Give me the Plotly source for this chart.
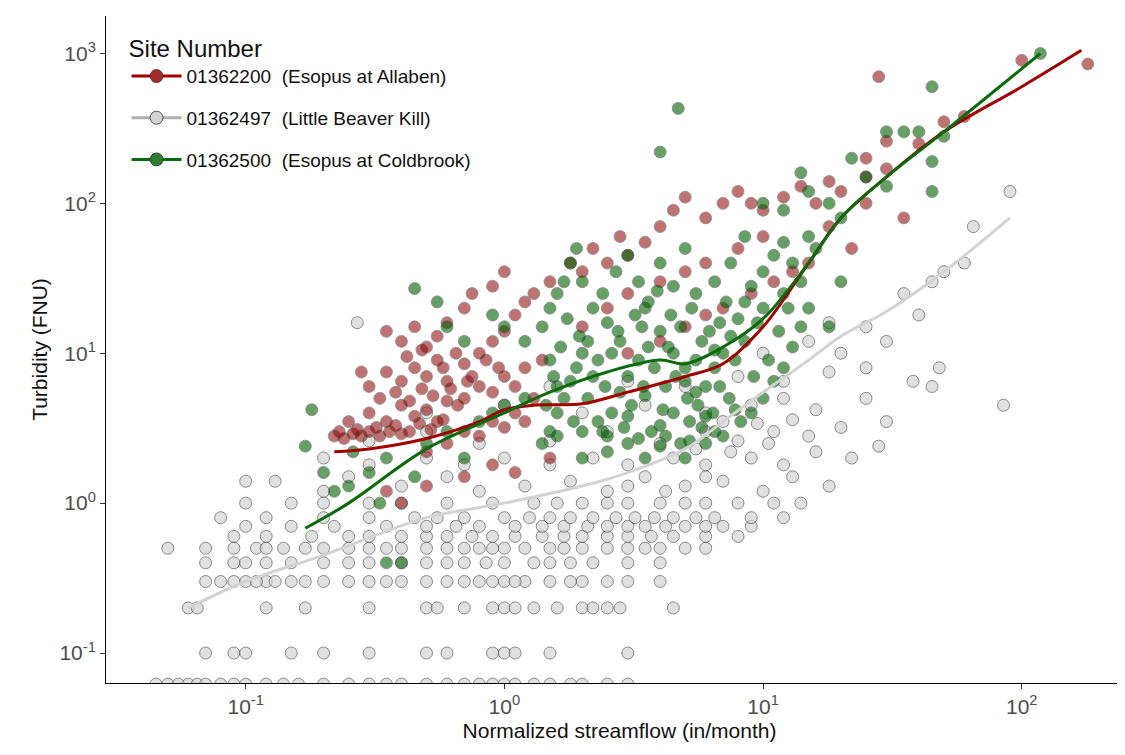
import plotly.graph_objects as go

# (streamflow, turbidity) pairs, per site
gray_pts = [
    (0.045, .062), (0.05, .062), (0.055, .062), (0.06, .062), (0.065, .062), (0.07, .062), (0.08, .062), (0.09, .062),
    (0.1, .062), (0.12, .062), (0.14, .062), (0.16, .062), (0.2, .062), (0.25, .062), (0.3, .062), (0.35, .062),
    (0.4, .062), (0.5, .062), (0.6, .062), (0.7, .062), (0.8, .062), (0.9, .062), (1.0, .062), (1.1, .062),
    (1.3, .062), (1.5, .062), (1.8, .062), (2.0, .062), (2.5, .062), (3.0, .062),
    (0.07, .1), (0.09, .1), (0.1, .1), (0.15, .1), (0.2, .1), (0.3, .1), (0.5, .1), (0.6, .1), (0.9, .1), (1.0, .1),
    (1.1, .1), (1.5, .1), (3.0, .1),
    (0.06, .2), (0.065, .2), (0.12, .2), (0.17, .2), (0.3, .2), (0.5, .2), (0.7, .2), (0.9, .2), (1.0, .2), (1.3, .2),
    (1.6, .2), (2.0, .2), (2.5, .2), (2.8, .2), (4.5, .2), (0.55, .2), (1.1, .2), (2.2, .2),
    (0.07, .3), (0.08, .3), (0.1, .3), (0.12, .3), (0.15, .3), (0.2, .3), (0.3, .3), (0.4, .3), (0.5, .3), (0.6, .3),
    (0.7, .3), (0.8, .3), (1.0, .3), (1.2, .3), (1.5, .3), (2.0, .3), (2.5, .3), (3.0, .3), (4.0, .3),
    (0.09, .3), (0.11, .3), (0.13, .3), (0.17, .3), (0.25, .3), (0.35, .3), (0.9, .3), (1.1, .3), (1.8, .3),
    (0.07, .4), (0.09, .4), (0.1, .4), (0.15, .4), (0.2, .4), (0.3, .4), (0.4, .4), (0.5, .4), (0.7, .4), (1.0, .4),
    (1.3, .4), (1.8, .4), (2.2, .4), (3.0, .4), (4.0, .4), (0.12, .4), (0.25, .4), (0.6, .4), (0.85, .4), (1.5, .4),
    (0.05, .5), (0.09, .5), (0.11, .5), (0.14, .5), (0.2, .5), (0.25, .5), (0.3, .5), (0.4, .5), (0.5, .5), (0.6, .5),
    (0.8, .5), (1.0, .5), (1.2, .5), (1.5, .5), (2.0, .5), (3.0, .5), (4.0, .5), (5.0, .5), (6.0, .5),
    (0.12, .5), (0.17, .5), (0.35, .5), (0.7, .5), (0.9, .5), (1.7, .5), (2.5, .5), (3.5, .5),
    (0.09, .6), (0.12, .6), (0.18, .6), (0.25, .6), (0.4, .6), (0.6, .6), (0.9, .6), (1.4, .6), (2.0, .6), (3.0, .6),
    (4.5, .6), (6.0, .6), (8.0, .6), (0.3, .6), (0.5, .6), (0.75, .6), (1.1, .6), (1.7, .6), (2.5, .6), (3.7, .6),
    (0.1, .7), (0.15, .7), (0.22, .7), (0.35, .7), (0.5, .7), (0.8, .7), (1.1, .7), (1.7, .7), (2.5, .7), (3.5, .7),
    (5.0, .7), (7.0, .7), (9.0, .7), (0.65, .7), (1.4, .7), (2.1, .7), (3.0, .7), (4.2, .7), (6.0, .7),
    (0.08, .8), (0.12, .8), (0.2, .8), (0.3, .8), (0.45, .8), (0.7, .8), (1.0, .8), (1.5, .8), (2.2, .8), (3.2, .8),
    (4.5, .8), (6.5, .8), (9.0, .8), (12.0, .8), (0.55, .8), (1.25, .8), (1.8, .8), (2.7, .8), (3.8, .8), (5.5, .8),
    (0.1, 1.0), (0.15, 1.0), (0.2, 1.0), (0.3, 1.0), (0.4, 1.0), (0.6, 1.0), (0.9, 1.0), (1.3, 1.0), (2.0, 1.0),
    (3.0, 1.0), (4.0, 1.0), (6.0, 1.0), (8.0, 1.0), (11.0, 1.0), (14.0, 1.0), (1.6, 1.0), (2.5, 1.0), (5.0, 1.0),
    (0.1, 1.4), (0.2, 1.2), (0.25, 1.5), (0.4, 1.3), (0.6, 1.5), (0.8, 1.2), (1.2, 1.3), (1.8, 1.4), (2.5, 1.2),
    (3.5, 1.5), (5.0, 1.3), (7.0, 1.4), (10.0, 1.2), (13.0, 1.5), (18.0, 1.3), (3.0, 1.3), (4.2, 1.2), (6.0, 1.5),
    (0.2, 2.0), (0.3, 1.8), (0.5, 2.0), (0.7, 1.8), (1.0, 2.0), (1.5, 1.8), (2.2, 2.0), (3.0, 1.8), (4.5, 2.0),
    (6.0, 1.8), (9.0, 2.0), (12.0, 1.8), (16.0, 2.2), (22.0, 2.0), (5.5, 2.3), (7.5, 2.2), (10.5, 2.5),
    (0.3, 2.6), (0.5, 3.0), (0.8, 2.5), (1.5, 2.6), (2.5, 3.0), (4.0, 2.5), (6.0, 3.0), (8.0, 2.6), (11.0, 3.0),
    (15.0, 2.8), (20.0, 3.2), (9.5, 3.4), (13.0, 3.6), (7.0, 3.5),
    (0.5, 4.0), (1.0, 4.5), (2.0, 4.0), (3.5, 4.5), (6.0, 4.0), (9.0, 4.5), (12.0, 5.0), (16.0, 4.2), (25.0, 5.0),
    (1.5, 6.0), (3.0, 6.5), (5.0, 6.0), (8.0, 7.0), (12.0, 6.5), (18.0, 7.5), (25.0, 8.0), (38.0, 6.5),
    (10.0, 10.0), (15.0, 12.0), (20.0, 10.0), (30.0, 12.0), (40.0, 18.0), (25.0, 15.0), (18.0, 16.0),
    (0.27, 16.0), (30.0, 3.5), (28.0, 2.4), (48.0, 8.0), (45.0, 6.0), (85.0, 4.5), (65.0, 70.0), (90.0, 120.0),
    (50.0, 35.0), (45.0, 30.0), (35.0, 25.0), (60.0, 40.0), (0.13, 1.4), (0.07, .5),
]

red_pts = [
    (0.22, 2.8), (0.24, 2.7), (0.26, 2.9), (0.28, 2.8), (0.3, 3.0), (0.33, 2.8), (0.36, 3.0), (0.4, 2.9),
    (0.23, 3.0), (0.27, 3.1), (0.32, 3.2), (0.38, 3.3), (0.43, 3.0), (0.47, 3.4), (0.52, 3.1), (0.58, 3.6),
    (0.25, 3.5), (0.3, 4.0), (0.35, 3.5), (0.4, 4.5), (0.45, 3.8), (0.5, 4.2), (0.55, 3.5), (0.6, 4.8),
    (0.33, 5.0), (0.38, 5.5), (0.43, 4.8), (0.48, 5.8), (0.53, 5.2), (0.62, 5.8), (0.66, 4.5), (0.72, 6.5),
    (0.3, 6.0), (0.35, 7.5), (0.4, 6.5), (0.45, 8.0), (0.5, 7.0), (0.55, 9.0), (0.6, 6.5), (0.7, 8.5),
    (0.28, 7.5), (0.42, 9.5), (0.48, 10.5), (0.58, 8.0), (0.65, 10.0), (0.75, 7.0), (0.85, 9.0), (0.95, 8.0),
    (0.35, 14.0), (0.4, 12.0), (0.45, 15.0), (0.5, 11.0), (0.55, 13.0), (0.6, 16.0), (0.7, 20.0), (0.75, 25.0),
    (0.8, 10.0), (0.9, 12.0), (1.0, 14.0), (1.1, 18.0), (1.2, 22.0), (1.3, 25.0), (0.9, 28.0), (1.0, 35.0),
    (0.7, 5.0), (0.8, 6.0), (0.9, 5.5), (1.0, 7.0), (1.1, 6.0), (1.2, 8.0), (1.3, 5.0), (1.4, 9.0),
    (0.5, 2.2), (0.6, 2.5), (0.7, 3.0), (0.8, 2.8), (0.9, 3.5), (1.0, 3.2), (1.1, 4.0), (1.2, 3.5),
    (0.35, 1.2), (0.4, 1.0), (0.5, 1.3), (0.7, 1.5), (0.9, 1.8), (1.1, 1.6), (1.5, 2.0),
    (1.5, 30.0), (1.8, 40.0), (2.0, 35.0), (2.2, 50.0), (2.5, 40.0), (2.8, 60.0), (3.0, 45.0), (3.5, 55.0),
    (4.0, 70.0), (4.5, 90.0), (5.0, 110.0), (6.0, 80.0), (7.0, 100.0), (8.0, 120.0), (9.0, 100.0),
    (10.0, 90.0), (12.0, 110.0), (14.0, 130.0), (16.0, 100.0), (18.0, 140.0), (20.0, 120.0), (25.0, 150.0),
    (25.0, 200.0), (30.0, 260.0), (30.0, 170.0), (40.0, 250.0), (50.0, 350.0), (60.0, 380.0), (25.0, 100.0),
    (100.0, 900.0), (180.0, 850.0), (28.0, 700.0), (35.0, 80.0), (22.0, 50.0), (18.0, 70.0), (15.0, 40.0),
    (2.0, 15.0), (2.5, 20.0), (3.0, 25.0), (4.0, 30.0), (5.0, 35.0), (6.0, 40.0), (8.0, 50.0), (10.0, 60.0),
    (3.0, 10.0), (4.0, 12.0), (5.0, 15.0), (6.0, 18.0), (7.0, 20.0), (9.0, 25.0), (11.0, 30.0), (13.0, 35.0),
]

green_pts = [
    (0.17, 2.4), (0.18, 4.2), (0.22, 1.2), (0.25, 1.3), (0.3, 1.6), (0.35, 2.0), (0.4, 0.4), (0.35, 0.4),
    (0.45, 1.5), (0.5, 2.5), (0.6, 3.0), (0.7, 2.0), (0.8, 3.5), (0.9, 4.0), (1.0, 4.5), (1.2, 5.0),
    (0.45, 27.0), (0.55, 22.0), (0.6, 15.0), (0.7, 12.0), (0.9, 18.0), (1.0, 15.0), (1.2, 12.0),
    (1.4, 2.5), (1.5, 3.0), (1.6, 4.0), (1.7, 5.0), (1.8, 6.5), (1.9, 8.0), (2.0, 10.0), (2.1, 12.0),
    (1.4, 15.0), (1.5, 20.0), (1.6, 25.0), (1.7, 30.0), (1.8, 40.0), (1.9, 50.0), (2.0, 30.0), (2.2, 20.0),
    (2.4, 3.0), (2.6, 4.0), (2.8, 5.5), (3.0, 7.0), (3.3, 9.0), (3.6, 11.0), (4.0, 14.0), (4.4, 18.0),
    (2.4, 25.0), (2.7, 35.0), (3.0, 45.0), (3.3, 30.0), (3.6, 22.0), (4.0, 40.0), (4.5, 28.0), (5.0, 50.0),
    (4.8, 2.5), (5.2, 3.5), (5.6, 4.5), (6.0, 6.0), (6.5, 8.0), (7.0, 10.0), (7.5, 13.0), (8.0, 17.0),
    (8.5, 22.0), (9.0, 28.0), (10.0, 35.0), (11.0, 45.0), (12.0, 55.0), (13.0, 40.0), (14.0, 30.0),
    (9.0, 4.0), (10.0, 5.0), (11.0, 6.5), (12.0, 8.0), (13.0, 11.0), (14.0, 15.0), (15.0, 20.0),
    (2.0, 2.0), (2.5, 2.2), (3.0, 2.5), (3.5, 2.0), (4.0, 2.4), (5.0, 2.0), (6.0, 2.5), (7.0, 2.8),
    (1.6, 6.0), (2.2, 7.0), (2.8, 12.0), (3.4, 15.0), (4.2, 6.0), (5.0, 8.0), (5.8, 12.0), (6.8, 16.0),
    (1.5, 9.0), (2.5, 16.0), (3.5, 20.0), (4.5, 10.0), (5.5, 25.0), (6.5, 30.0), (7.5, 40.0), (8.5, 60.0),
    (1.45, 4.5), (1.55, 7.0), (1.65, 11.0), (1.75, 17.0), (1.85, 3.5), (1.95, 13.0), (2.1, 5.0), (2.3, 9.0),
    (2.3, 3.5), (2.45, 6.0), (2.6, 10.0), (2.75, 14.0), (2.9, 3.2), (3.1, 4.5), (3.2, 18.0), (3.45, 6.0),
    (3.7, 3.0), (3.8, 8.0), (3.9, 26.0), (4.1, 4.2), (4.3, 11.0), (4.6, 7.0), (4.8, 15.0), (5.1, 5.0),
    (5.3, 20.0), (5.5, 9.0), (5.8, 3.2), (6.2, 14.0), (6.4, 4.0), (6.8, 6.0), (7.2, 22.0), (7.4, 5.0),
    (7.8, 9.0), (8.2, 3.5), (8.5, 12.0), (9.2, 7.0), (9.5, 16.0), (10.5, 9.0), (11.5, 14.0), (12.5, 20.0),
    (3.0, 3.8), (3.5, 5.2), (4.0, 3.3), (4.5, 4.0), (5.0, 6.5), (5.5, 5.5), (6.0, 3.8), (6.5, 10.5),
    (1.6, 2.8), (2.0, 3.0), (2.5, 2.8), (3.3, 2.7), (4.2, 2.8), (5.2, 2.6), (6.5, 3.0), (7.8, 4.2),
    (10.0, 20.0), (12.0, 25.0), (15.0, 60.0), (18.0, 100.0), (20.0, 80.0), (25.0, 150.0), (30.0, 300.0),
    (4.7, 430.0), (4.0, 220.0), (10.0, 100.0), (14.0, 160.0), (15.0, 120.0), (16.0, 50.0), (20.0, 30.0),
    (30.0, 130.0), (40.0, 300.0), (45.0, 190.0), (45.0, 120.0), (50.0, 280.0), (45.0, 600.0), (118.0, 1000.0),
    (35.0, 300.0), (22.0, 200.0), (18.0, 15.0), (12.0, 90.0), (0.2, 1.6), (0.26, 2.2), (0.33, 1.0),
]

# smoothed trend lines
red_line_x = [0.22, 0.3, 0.5, 0.8, 1.0, 1.3, 2.0, 3.0, 5.0, 7.0, 10.0, 15.0, 20.0, 30.0, 50.0, 100.0, 170.0]
red_line_y = [2.2, 2.3, 2.7, 3.5, 4.2, 4.5, 4.6, 5.5, 7.0, 8.5, 15.0, 40.0, 80.0, 150.0, 300.0, 600.0, 1050.0]
gray_line_x = [0.06, 0.1, 0.2, 0.5, 1.0, 2.0, 3.0, 5.0, 7.0, 10.0, 15.0, 20.0, 30.0, 50.0, 90.0]
gray_line_y = [0.2, 0.3, 0.45, 0.8, 1.0, 1.3, 1.6, 2.3, 3.5, 5.5, 9.0, 13.0, 19.0, 35.0, 80.0]
green_line_x = [0.17, 0.25, 0.5, 1.0, 1.5, 2.5, 4.0, 5.0, 7.0, 10.0, 15.0, 20.0, 30.0, 50.0, 118.0]
green_line_y = [0.68, 1.0, 2.3, 4.0, 5.5, 7.5, 9.0, 8.5, 11.0, 17.0, 40.0, 80.0, 150.0, 300.0, 1000.0]

sites = ["01362200  (Esopus at Allaben)", "01362497  (Little Beaver Kill)", "01362500  (Esopus at Coldbrook)"]

fig = go.Figure()
series = [
    (gray_pts, "#d3d3d3", 0.7, gray_line_x, gray_line_y, "#d3d3d3"),
    (red_pts, "#8b0000", 0.55, red_line_x, red_line_y, "#a00000"),
    (green_pts, "#006400", 0.6, green_line_x, green_line_y, "#0b6b0b"),
]
for pts, col, op, lx, ly, lcol in series:
    fig.add_trace(go.Scatter(x=[p[0] for p in pts], y=[p[1] for p in pts], mode="markers",
                             marker=dict(size=12, color=col, opacity=op, line=dict(color="#333", width=0.8)),
                             showlegend=False))
for pts, col, op, lx, ly, lcol in series:
    fig.add_trace(go.Scatter(x=lx, y=ly, mode="lines", line=dict(color=lcol, width=3, shape="spline"),
                             showlegend=False))

legend_cols = [("#a52a2a", "#a00000"), ("#d3d3d3", "#b0b0b0"), ("#2e7d2e", "#0b6b0b")]
for i, (name, (mc, lc)) in enumerate(zip(sites, legend_cols)):
    fig.add_trace(go.Scatter(x=[None], y=[None], mode="lines+markers", name=name, legendgroup=str(i),
                             marker=dict(size=13, color=mc, line=dict(color="#333", width=0.8)),
                             line=dict(color=lc, width=3)))

tv = [0.1, 1, 10, 100]
tt = ["10<sup>-1</sup>", "10<sup>0</sup>", "10<sup>1</sup>", "10<sup>2</sup>"]
tvy = [0.1, 1, 10, 100, 1000]
tty = ["10<sup>-1</sup>", "10<sup>0</sup>", "10<sup>1</sup>", "10<sup>2</sup>", "10<sup>3</sup>"]

fig.update_layout(
    width=1125, height=755, plot_bgcolor="white", paper_bgcolor="white",
    margin=dict(l=98, r=0, t=8, b=80),
    font=dict(family="Liberation Sans, Arial", size=20, color="#111"),
    legend=dict(title=dict(text="Site Number", font=dict(size=24)), x=0.02, y=0.985,
                bgcolor="rgba(0,0,0,0)", font=dict(size=19), itemwidth=50, tracegroupgap=14),
)
fig.update_xaxes(type="log", range=[-1.54, 2.43], tickvals=tv, ticktext=tt, showgrid=False, zeroline=False,
                 showline=True, linecolor="black", ticks="outside", tickcolor="#333",
                 tickfont=dict(color="#4d4d4d", size=21),
                 title=dict(text="Normalized streamflow (in/month)", font=dict(size=21), standoff=6))
fig.update_yaxes(type="log", range=[-1.2, 3.25], tickvals=tvy, ticktext=tty, showgrid=False, zeroline=False,
                 showline=True, linecolor="black", ticks="outside", tickcolor="#333",
                 tickfont=dict(color="#4d4d4d", size=21),
                 title=dict(text="Turbidity (FNU)", font=dict(size=21), standoff=6))
fig.write_html("out.html")
